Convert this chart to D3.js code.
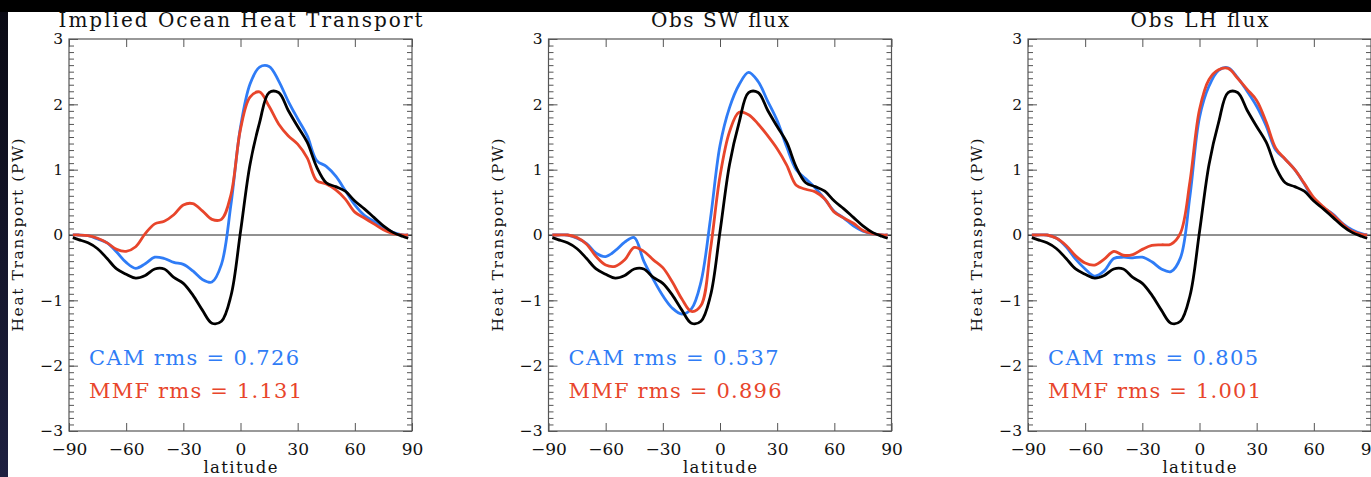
<!DOCTYPE html>
<html>
<head>
<meta charset="utf-8">
<script src="https://cdn.jsdelivr.net/npm/d3@7"></script>
<style>
  html, body { margin: 0; padding: 0; background: #000; overflow: hidden; }
  text { font-family: "DejaVu Serif", "Liberation Serif", serif; }
</style>
</head>
<body>
<div id="chart"></div>
<script>
let lat = [-88, -85, -80, -75, -70, -65, -60, -55, -50, -45, -40, -35, -30, -25, -20, -15, -10, -5, 0,
           5, 10, 15, 20, 25, 30, 35, 40, 45, 50, 55, 60, 65, 70, 75, 80, 85, 88];

// observed transport (black, same in every panel)
let obs = [-0.04, -0.07, -0.12, -0.21, -0.36, -0.52, -0.60, -0.66, -0.62, -0.52, -0.52, -0.65, -0.74, -0.92, -1.15, -1.35, -1.32, -0.93, 0.05,
           1.08, 1.72, 2.18, 2.18, 1.91, 1.66, 1.42, 1.04, 0.80, 0.74, 0.67, 0.52, 0.40, 0.27, 0.14, 0.04, -0.02, -0.05];

let camImplied = [0, 0, -0.01, -0.06, -0.12, -0.26, -0.42, -0.51, -0.44, -0.34, -0.36, -0.42, -0.45, -0.55, -0.68, -0.72, -0.45, 0.47, 1.65,
                  2.31, 2.57, 2.58, 2.36, 2.05, 1.78, 1.52, 1.14, 1.05, 0.90, 0.68, 0.46, 0.30, 0.21, 0.12, 0.04, 0, 0];
let mmfImplied = [0, 0, -0.01, -0.05, -0.12, -0.22, -0.25, -0.18, 0.02, 0.17, 0.21, 0.31, 0.46, 0.48, 0.37, 0.24, 0.24, 0.62, 1.62,
                  2.11, 2.19, 1.97, 1.70, 1.52, 1.39, 1.18, 0.83, 0.78, 0.69, 0.55, 0.35, 0.26, 0.17, 0.08, 0.02, 0, 0];

let camSW = [0, 0, 0, -0.05, -0.13, -0.28, -0.33, -0.24, -0.11, -0.04, -0.40, -0.68, -0.93, -1.12, -1.21, -1.13, -0.72, 0.25, 1.37,
             1.95, 2.30, 2.49, 2.35, 2.05, 1.75, 1.35, 1.00, 0.86, 0.72, 0.55, 0.36, 0.26, 0.14, 0.06, 0.02, 0, 0];
let mmfSW = [0, 0, 0, -0.04, -0.14, -0.33, -0.46, -0.48, -0.38, -0.19, -0.25, -0.38, -0.50, -0.72, -0.98, -1.17, -1.08, -0.22, 0.90,
             1.58, 1.88, 1.84, 1.70, 1.52, 1.32, 1.07, 0.76, 0.70, 0.66, 0.55, 0.35, 0.26, 0.18, 0.07, 0.02, 0, 0];

let camLH = [0, 0, 0, -0.05, -0.18, -0.37, -0.52, -0.63, -0.55, -0.36, -0.34, -0.35, -0.34, -0.41, -0.52, -0.56, -0.35, 0.60, 1.80,
             2.28, 2.52, 2.56, 2.41, 2.20, 1.97, 1.67, 1.30, 1.16, 1.00, 0.78, 0.54, 0.42, 0.32, 0.18, 0.08, 0.02, 0];
let mmfLH = [0, 0, 0, -0.05, -0.16, -0.32, -0.43, -0.46, -0.37, -0.25, -0.31, -0.30, -0.22, -0.16, -0.15, -0.14, 0.03, 0.82, 1.92,
             2.38, 2.53, 2.55, 2.40, 2.23, 2.06, 1.73, 1.33, 1.16, 1.00, 0.79, 0.57, 0.43, 0.31, 0.17, 0.06, 0.01, 0];

let titles = ["Implied Ocean Heat Transport", "Obs SW flux", "Obs LH flux"];
let camSeries = [camImplied, camSW, camLH];
let mmfSeries = [mmfImplied, mmfSW, mmfLH];
let camRms = ["0.726", "0.537", "0.805"];
let mmfRms = ["1.131", "0.896", "1.001"];

let xTicks = [-90, -60, -30, 0, 30, 60, 90];
let yTicks = [-3, -2, -1, 0, 1, 2, 3];

let W = 1371, H = 477;
let blue = "#2f7cf6", red = "#e8452b";

let svg = d3.select("#chart").append("svg")
    .attr("width", W)
    .attr("height", H)
    .style("display", "block");

// slide background: black band on top, navy strip on the left
let defs = svg.append("defs");
let grad = defs.append("linearGradient").attr("id", "navy")
    .attr("x1", 0).attr("y1", 0).attr("x2", 0).attr("y2", 1);
grad.append("stop").attr("offset", "0%").attr("stop-color", "#0a0a14");
grad.append("stop").attr("offset", "100%").attr("stop-color", "#1e2040");

svg.append("rect").attr("width", W).attr("height", H).attr("fill", "#000");
svg.append("rect").attr("x", 0).attr("y", 12).attr("width", 8).attr("height", H - 12).attr("fill", "url(#navy)");
svg.append("rect").attr("x", 8).attr("y", 12).attr("width", W - 8).attr("height", H - 12).attr("fill", "#fff");

let plotLefts = [69, 548.5, 1028];
let plotW = 343, plotTop = 39, plotBottom = 431;

function drawPanel(i) {
    let left = plotLefts[i];
    let right = left + plotW;

    let x = d3.scaleLinear().domain([-90, 90]).range([left, right]);
    let y = d3.scaleLinear().domain([-3, 3]).range([plotBottom, plotTop]);

    let g = svg.append("g");

    // minor y ticks both sides
    let minor = d3.range(-30, 31).map(d => d / 10);
    g.append("g").attr("transform", "translate(" + left + ",0)")
        .call(d3.axisLeft(y).tickValues(minor).tickSize(-5).tickFormat(""))
        .call(a => a.select(".domain").remove());
    g.append("g").attr("transform", "translate(" + right + ",0)")
        .call(d3.axisRight(y).tickValues(minor).tickSize(-5).tickFormat(""))
        .call(a => a.select(".domain").remove());

    // major ticks
    let yLeft = g.append("g").attr("transform", "translate(" + left + ",0)")
        .call(d3.axisLeft(y).tickValues(yTicks).tickSize(-9).tickPadding(6).tickFormat(d3.format("d")));
    yLeft.select(".domain").remove();
    yLeft.selectAll("text").style("font-size", "15.5px").attr("fill", "#111");

    g.append("g").attr("transform", "translate(" + right + ",0)")
        .call(d3.axisRight(y).tickValues(yTicks).tickSize(-9).tickFormat(""))
        .call(a => a.select(".domain").remove());

    let xBottom = g.append("g").attr("transform", "translate(0," + plotBottom + ")")
        .call(d3.axisBottom(x).tickValues(xTicks).tickSize(-8).tickPadding(12).tickFormat(d3.format("d")));
    xBottom.select(".domain").remove();
    xBottom.selectAll("text").style("font-size", "17px").attr("fill", "#111");

    g.append("g").attr("transform", "translate(0," + plotTop + ")")
        .call(d3.axisTop(x).tickValues(xTicks).tickSize(-8).tickFormat(""))
        .call(a => a.select(".domain").remove());

    g.selectAll(".tick line").attr("stroke", "#555");

    // frame
    g.append("rect")
        .attr("x", left).attr("y", plotTop)
        .attr("width", plotW).attr("height", plotBottom - plotTop)
        .attr("fill", "none").attr("stroke", "#555").attr("stroke-width", 1.2);

    // zero line
    g.append("line")
        .attr("x1", left).attr("x2", right)
        .attr("y1", y(0)).attr("y2", y(0))
        .attr("stroke", "#222").attr("stroke-width", 1);

    let line = d3.line()
        .x((d, k) => x(lat[k]))
        .y(d => y(d))
        .curve(d3.curveCatmullRom.alpha(0.5));

    let series = [[camSeries[i], blue], [mmfSeries[i], red], [obs, "#000"]];
    series.forEach(function(s) {
        g.append("path")
            .attr("d", line(s[0]))
            .attr("fill", "none")
            .attr("stroke", s[1])
            .attr("stroke-width", 2.8)
            .attr("stroke-linejoin", "round");
    });

    // title
    g.append("text")
        .attr("x", x(0)).attr("y", 27)
        .attr("text-anchor", "middle")
        .attr("textLength", i == 0 ? 364 : 138)
        .attr("lengthAdjust", "spacing")
        .style("font-size", "20px")
        .attr("fill", "#111")
        .text(titles[i]);

    // axis labels
    g.append("text")
        .attr("transform", "translate(" + (left - 46) + "," + ((plotTop + plotBottom) / 2) + ") rotate(-90)")
        .attr("text-anchor", "middle")
        .attr("textLength", 193)
        .attr("lengthAdjust", "spacing")
        .style("font-size", "15.5px")
        .attr("fill", "#111")
        .text("Heat Transport (PW)");

    g.append("text")
        .attr("x", x(0)).attr("y", 473)
        .attr("text-anchor", "middle")
        .attr("textLength", 74)
        .attr("lengthAdjust", "spacing")
        .style("font-size", "16.5px")
        .attr("fill", "#111")
        .text("latitude");

    // rms annotations
    g.append("text")
        .attr("x", left + 20).attr("y", 365)
        .attr("textLength", 210)
        .attr("lengthAdjust", "spacing")
        .style("font-size", "21px")
        .attr("fill", blue)
        .text("CAM rms = " + camRms[i]);

    g.append("text")
        .attr("x", left + 20).attr("y", 397.5)
        .attr("textLength", 213)
        .attr("lengthAdjust", "spacing")
        .style("font-size", "21px")
        .attr("fill", red)
        .text("MMF rms = " + mmfRms[i]);
}

for (let i = 0; i < 3; i++) {
    drawPanel(i);
}
</script>
</body>
</html>
